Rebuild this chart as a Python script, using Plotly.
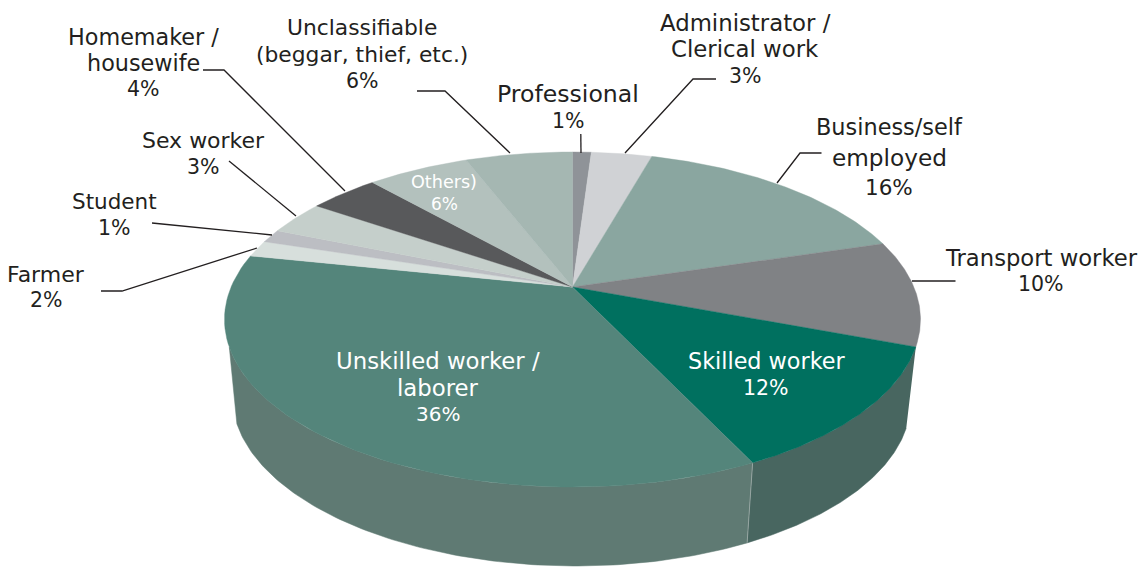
import numpy as np
import plotly.graph_objects as go

# ---- data (clockwise from 12 o'clock) ----
categories = ["Professional", "Administrator / Clerical work", "Business/self employed",
              "Transport worker", "Skilled worker", "Unskilled worker / laborer", "Farmer",
              "Student", "Sex worker", "Homemaker / housewife", "Others",
              "Unclassifiable (beggar, thief, etc.)"]
values = [1.05, 3.4, 16.0, 10.2, 12.2, 35.4, 1.6, 1.3, 3.3, 3.9, 5.7, 6.0]
label_lines = [["Professional", "1%"], ["Administrator /", "Clerical work", "3%"],
               ["Business/self", "employed", "16%"], ["Transport worker", "10%"],
               ["Skilled worker", "12%"], ["Unskilled worker /", "laborer", "36%"],
               ["Farmer", "2%"], ["Student", "1%"], ["Sex worker", "3%"],
               ["Homemaker /", "housewife", "4%"], ["Others)", "6%"],
               ["Unclassifiable", "(beggar, thief, etc.)", "6%"]]

# ---- styles and layout ----
colors = ["#8f9398", "#d0d2d5", "#8aa6a0", "#808285", "#00705f", "#54857b", "#d7dfdc",
          "#bcbec3", "#c5cfcb", "#58595b", "#b3c1bd", "#a5b7b2"]
side_colors = {4: "#486660", 5: "#5f7a73"}
label_x = [568, 745, 889, 1041, 766, 438, 46, 114, 203, 143, 444, 362]
label_y = [[94, 121], [23, 49, 76], [127, 157, 187], [258, 284], [361, 388],
           [361, 388, 414], [274, 300], [201, 228], [140, 167], [37, 63, 89],
           [182, 204], [27, 54, 81]]
label_size = [[23.6, 20.5], [22.8, 22.8, 20.5], [22.4, 23.2, 21.5], [22.7, 20.5],
              [22.3, 20.5], [22.8, 22.8, 20], [22, 20.5], [21.5, 20.5], [22, 20.5],
              [22.3, 22.3, 20.5], [17.6, 17], [21.8, 21.8, 20.5]]
label_color = ["#231f20"] * 12
for i in (4, 5, 10):
    label_color[i] = "#ffffff"
leaders = [
    [(580.8, 134), (581, 153)],
    [(716, 79), (693, 79), (625, 153)],
    [(821.5, 153), (800, 153), (777, 183)],
    [(955.5, 281), (912, 281)],
    [(101, 291), (122, 291), (257, 248)],
    [(152, 223), (272, 235)],
    [(229, 161), (296, 216)],
    [(203, 70), (224, 70), (345, 191)],
    [(417, 91), (445, 91), (510, 153)],
]

W, H = 1143, 567
CX, CY = 572.5, 287.0
A, B, K = 161.2, 341.4, 0.194      # perspective of the top face
SX, SHIFT = 0.975, -1.0            # lower face: narrower
SIDE_LIMIT = np.radians(249.6)     # silhouette of the left side


def top(t):
    u, v = np.sin(t), np.cos(t)
    d = 1 + K * v
    return CX + B * u / d, CY - A * v / d


def bottom(t):
    x, y = top(t)
    return CX + SHIFT + SX * (x - CX), y + 79 + 2.5 * np.sin(t)


shares = np.array(values) / np.sum(values)
edges = np.concatenate([[0], np.cumsum(shares)]) * 2 * np.pi

fig = go.Figure()

# sides
for i, col in side_colors.items():
    t0, t1 = edges[i], min(edges[i + 1], SIDE_LIMIT)
    t = np.linspace(t0, t1, 120)
    xt, yt = top(t)
    xb, yb = bottom(t[::-1])
    fig.add_trace(go.Scatter(x=np.r_[xt, xb], y=np.r_[yt, yb], mode="lines", fill="toself",
                             fillcolor=col, line=dict(color=col, width=0.5),
                             name=categories[i] + " side", hoverinfo="skip", showlegend=False))
# seam between the two sides
t = edges[5]
xa, ya = top(t)
xb, yb = bottom(t)
fig.add_trace(go.Scatter(x=[xa, xb], y=[ya, yb], mode="lines",
                         line=dict(color="#a9b5b1", width=0.7), hoverinfo="skip", showlegend=False))

# top face
for i, (name, col) in enumerate(zip(categories, colors)):
    t = np.linspace(edges[i], edges[i + 1], 80)
    xt, yt = top(t)
    fig.add_trace(go.Scatter(x=np.r_[CX, xt, CX], y=np.r_[CY, yt, CY], mode="lines", fill="toself",
                             fillcolor=col, line=dict(color=col, width=0.4),
                             name=name, hoverinfo="skip", showlegend=False))

# leader lines
for pts in leaders:
    xs, ys = zip(*pts)
    fig.add_trace(go.Scatter(x=xs, y=ys, mode="lines", line=dict(color="#231f20", width=1.3),
                             hoverinfo="skip", showlegend=False))

annotations = []
for lines, x, ys, sizes, c in zip(label_lines, label_x, label_y, label_size, label_color):
    for s, y, z in zip(lines, ys, sizes):
        annotations.append(dict(x=x, y=y, text=s, showarrow=False, xanchor="center",
                                yanchor="middle", align="center",
                                font=dict(family="DejaVu Sans", size=z, color=c)))

fig.update_layout(
    width=W, height=H, margin=dict(l=0, r=0, t=0, b=0),
    paper_bgcolor="#ffffff", plot_bgcolor="#ffffff", showlegend=False,
    xaxis=dict(range=[0, W], visible=False, fixedrange=True),
    yaxis=dict(range=[H, 0], visible=False, fixedrange=True),
    annotations=annotations,
)
fig.write_html("out.html", post_script="document.body.style.margin='0';",
               config={"displayModeBar": False})
